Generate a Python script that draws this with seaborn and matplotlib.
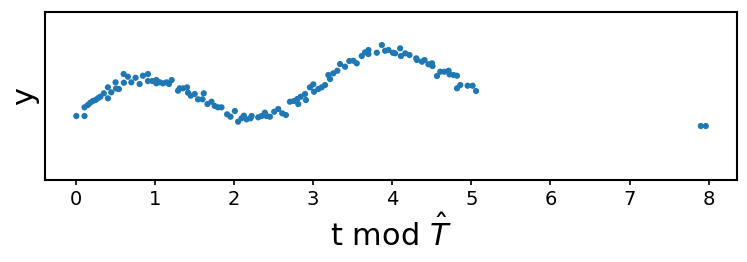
import matplotlib
matplotlib.use("Agg")
import matplotlib.pyplot as plt
import seaborn as sns
import pandas as pd

t_mod = [0.01, 0.114, 0.114, 0.156, 0.186, 0.219, 0.253, 0.282, 0.313, 0.358,
         0.409, 0.409, 0.452, 0.506, 0.513, 0.548, 0.608, 0.611, 0.662, 0.705,
         0.759, 0.810, 0.852, 0.915, 0.915, 0.971, 1.022, 1.022, 1.063, 1.105,
         1.148, 1.181, 1.215, 1.295, 1.316, 1.358, 1.409, 1.422, 1.456, 1.506,
         1.548, 1.604, 1.620, 1.667, 1.718, 1.759, 1.801, 1.844, 1.915, 1.958,
         2.013, 2.054, 2.097, 2.127, 2.161, 2.211, 2.224, 2.308, 2.351, 2.392,
         2.414, 2.456, 2.510, 2.561, 2.611, 2.658, 2.709, 2.759, 2.801, 2.814,
         2.844, 2.899, 2.911, 2.962, 3.004, 3.013, 3.067, 3.110, 3.152, 3.194,
         3.215, 3.257, 3.308, 3.342, 3.405, 3.459, 3.510, 3.553, 3.616, 3.658,
         3.700, 3.700, 3.806, 3.870, 3.911, 3.953, 4.009, 4.038, 4.101, 4.110,
         4.165, 4.219, 4.304, 4.313, 4.376, 4.409, 4.459, 4.503, 4.510, 4.566,
         4.608, 4.658, 4.713, 4.725, 4.776, 4.819, 4.819, 4.861, 4.953, 5.016,
         5.059, 7.899, 7.962]

y_vals = [0.64, 0.64, 0.727, 0.75, 0.773, 0.79, 0.80, 0.817, 0.833, 0.867,
          0.817, 0.927, 0.877, 0.977, 0.915, 0.91, 1.06, 0.973, 1.033, 0.977,
          1.023, 0.96, 1.043, 1.06, 0.99, 0.99, 1.00, 0.967, 0.977, 0.967,
          0.977, 0.96, 1.00, 0.893, 0.917, 0.917, 0.927, 0.873, 0.843, 0.86,
          0.807, 0.807, 0.867, 0.76, 0.783, 0.74, 0.727, 0.727, 0.657, 0.633,
          0.69, 0.583, 0.617, 0.643, 0.607, 0.617, 0.64, 0.627, 0.64, 0.673,
          0.64, 0.633, 0.683, 0.71, 0.667, 0.65, 0.783, 0.79, 0.81, 0.76,
          0.833, 0.86, 0.80, 0.927, 0.957, 0.883, 0.91, 0.927, 0.95, 1.05,
          1.01, 1.067, 1.093, 1.16, 1.133, 1.19, 1.193, 1.167, 1.24, 1.277,
          1.30, 1.26, 1.273, 1.35, 1.293, 1.30, 1.273, 1.267, 1.317, 1.24,
          1.267, 1.25, 1.217, 1.20, 1.183, 1.20, 1.157, 1.167, 1.14, 1.04,
          1.083, 1.083, 1.093, 1.057, 1.05, 1.043, 0.917, 0.95, 0.943, 0.943,
          0.89, 0.54, 0.54]

df = pd.DataFrame({"t": t_mod, "y": y_vals})

fig = plt.figure(figsize=(7.47, 2.62), dpi=100)
ax = fig.add_axes([0.060, 0.313, 0.927, 0.641])
sns.scatterplot(data=df, x="t", y="y", ax=ax, s=20, color="#1f77b4",
                edgecolor="none", linewidth=0)
ax.set_ylim(0, 1.68)
ax.set_xticks([0, 1, 2, 3, 4, 5, 6, 7, 8])
ax.set_yticks([])
ax.tick_params(axis="x", labelsize=14, length=3.5, width=1.2)
ax.set_xlabel(r"t mod $\hat{T}$", fontsize=22)
ax.set_ylabel("y", fontsize=22)
for sp in ax.spines.values():
    sp.set_linewidth(1.5)
fig.savefig("out.png", dpi=100)
